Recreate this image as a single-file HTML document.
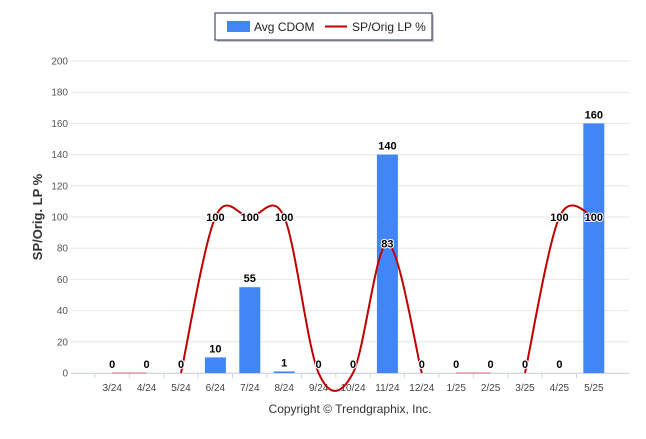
<!DOCTYPE html>
<html><head><meta charset="utf-8"><style>
body{margin:0;background:#fff;font-family:"Liberation Sans",Arial,sans-serif}
svg text{font-family:"Liberation Sans",Arial,sans-serif}
</style></head><body>
<svg id="chart" width="646" height="434" xmlns="http://www.w3.org/2000/svg">
<g>
<rect x="217" y="15" width="217" height="27" fill="#999" opacity="0.5"/>
<rect x="215" y="13" width="217" height="27" fill="#fff" stroke="#1f2d4f" stroke-width="1"/>
<rect x="227" y="21" width="23" height="11" fill="#4285f4"/>
<text x="254" y="31" font-size="12" fill="#222">Avg CDOM</text>
<line x1="325" y1="26.5" x2="347" y2="26.5" stroke="#c00000" stroke-width="2"/>
<text x="352" y="31" font-size="12" fill="#222">SP/Orig LP %</text>
</g>
<g id="grid"></g>
<g id="bars"></g>
<g id="line"></g>
<g id="labels"></g>
<text transform="translate(42,217) rotate(-90)" text-anchor="middle" font-size="13" font-weight="bold" fill="#333">SP/Orig. LP %</text>
<text x="350" y="413" text-anchor="middle" font-size="12" fill="#333">Copyright © Trendgraphix, Inc.</text>
</svg>
<script>
const categories=["3/24","4/24","5/24","6/24","7/24","8/24","9/24","10/24","11/24","12/24","1/25","2/25","3/25","4/25","5/25"];
const cdom=[0,0,0,10,55,1,0,0,140,0,0,0,0,0,160];
const spOrig=[0,0,0,100,100,100,0,0,83,0,0,0,0,100,100];
const spLabels=[null,null,null,100,100,100,null,null,83,null,null,null,null,100,100];
const yTicks=[0,20,40,60,80,100,120,140,160,180,200];
const NS="http://www.w3.org/2000/svg";
const x0=95,bw=34.4,yBase=373,yTop=61;
const xs=i=>x0+bw*(i+0.5);
const ys=v=>yBase-(v/200)*(yBase-yTop);
function mk(t,a,p){const e=document.createElementNS(NS,t);for(const k in a)e.setAttribute(k,a[k]);document.getElementById(p).appendChild(e);return e;}
yTicks.forEach(v=>{
 const l=mk('line',{x1:71,x2:629,y1:ys(v),y2:ys(v),stroke:'#e6e6e6','stroke-width':1},'grid');
 
 
 const t=mk('text',{x:68,y:ys(v)+3.5,'text-anchor':'end','font-size':10,fill:'#555'},'grid');t.textContent=v;
 
 
});
const ax=mk('line',{x1:71,x2:629,y1:yBase+0.5,y2:yBase+0.5,stroke:'#ccd6eb'},'grid');


categories.forEach((c,i)=>{
 const tk=mk('line',{x1:x0+bw*i,x2:x0+bw*i,y1:yBase,y2:yBase+5,stroke:'#ccd6eb'},'grid');
 
 
 const t=mk('text',{x:xs(i),y:yBase+18,'text-anchor':'middle','font-size':10,fill:'#444'},'grid');t.textContent=c;
 
 
 const h=(cdom[i]/200)*(yBase-yTop);
 if(h>0){const b=mk('rect',{x:xs(i)-10.5,y:yBase-h,width:21,height:h,fill:'#4285f4'},'bars');
 
 }
 const lt=mk('text',{x:xs(i),y:ys(cdom[i])-5,'text-anchor':'middle','font-size':11,'font-weight':'bold',fill:'#000',stroke:'#fff','stroke-width':2,'paint-order':'stroke'},'labels');lt.textContent=cdom[i];
 
 
 if(spLabels[i]!==null){const s=mk('text',{x:xs(i),y:ys(spOrig[i])+4,'text-anchor':'middle','font-size':11,'font-weight':'bold',fill:'#000',stroke:'#fff','stroke-width':2,'paint-order':'stroke'},'labels');s.textContent=spLabels[i];
 
 }
});
// faint segments and spline segments
const faint=[[0,1],[10,11]];
faint.forEach(([a,b])=>{const l=mk('line',{x1:xs(a),x2:xs(b),y1:ys(spOrig[a]),y2:ys(spOrig[b]),stroke:'#e57373','stroke-width':1},'line');
 
 });
const segs=[[2,9],[12,14]];
segs.forEach(([a,b])=>{
 const P=[];for(let i=a;i<=b;i++)P.push([xs(i),ys(spOrig[i])]);
 let d='M'+P[0][0]+','+P[0][1];
 for(let i=0;i<P.length-1;i++){
  const p0=P[Math.max(i-1,0)],p1=P[i],p2=P[i+1],p3=P[Math.min(i+2,P.length-1)];
  const c1=[p1[0]+(p2[0]-p0[0])/6,p1[1]+(p2[1]-p0[1])/6];
  const c2=[p2[0]-(p3[0]-p1[0])/6,p2[1]-(p3[1]-p1[1])/6];
  d+=` C${c1[0]},${c1[1]} ${c2[0]},${c2[1]} ${p2[0]},${p2[1]}`;
 }
 const p=mk('path',{d:d,fill:'none',stroke:'#c00000','stroke-width':2},'line');
 
 
});
</script>
</body></html>
